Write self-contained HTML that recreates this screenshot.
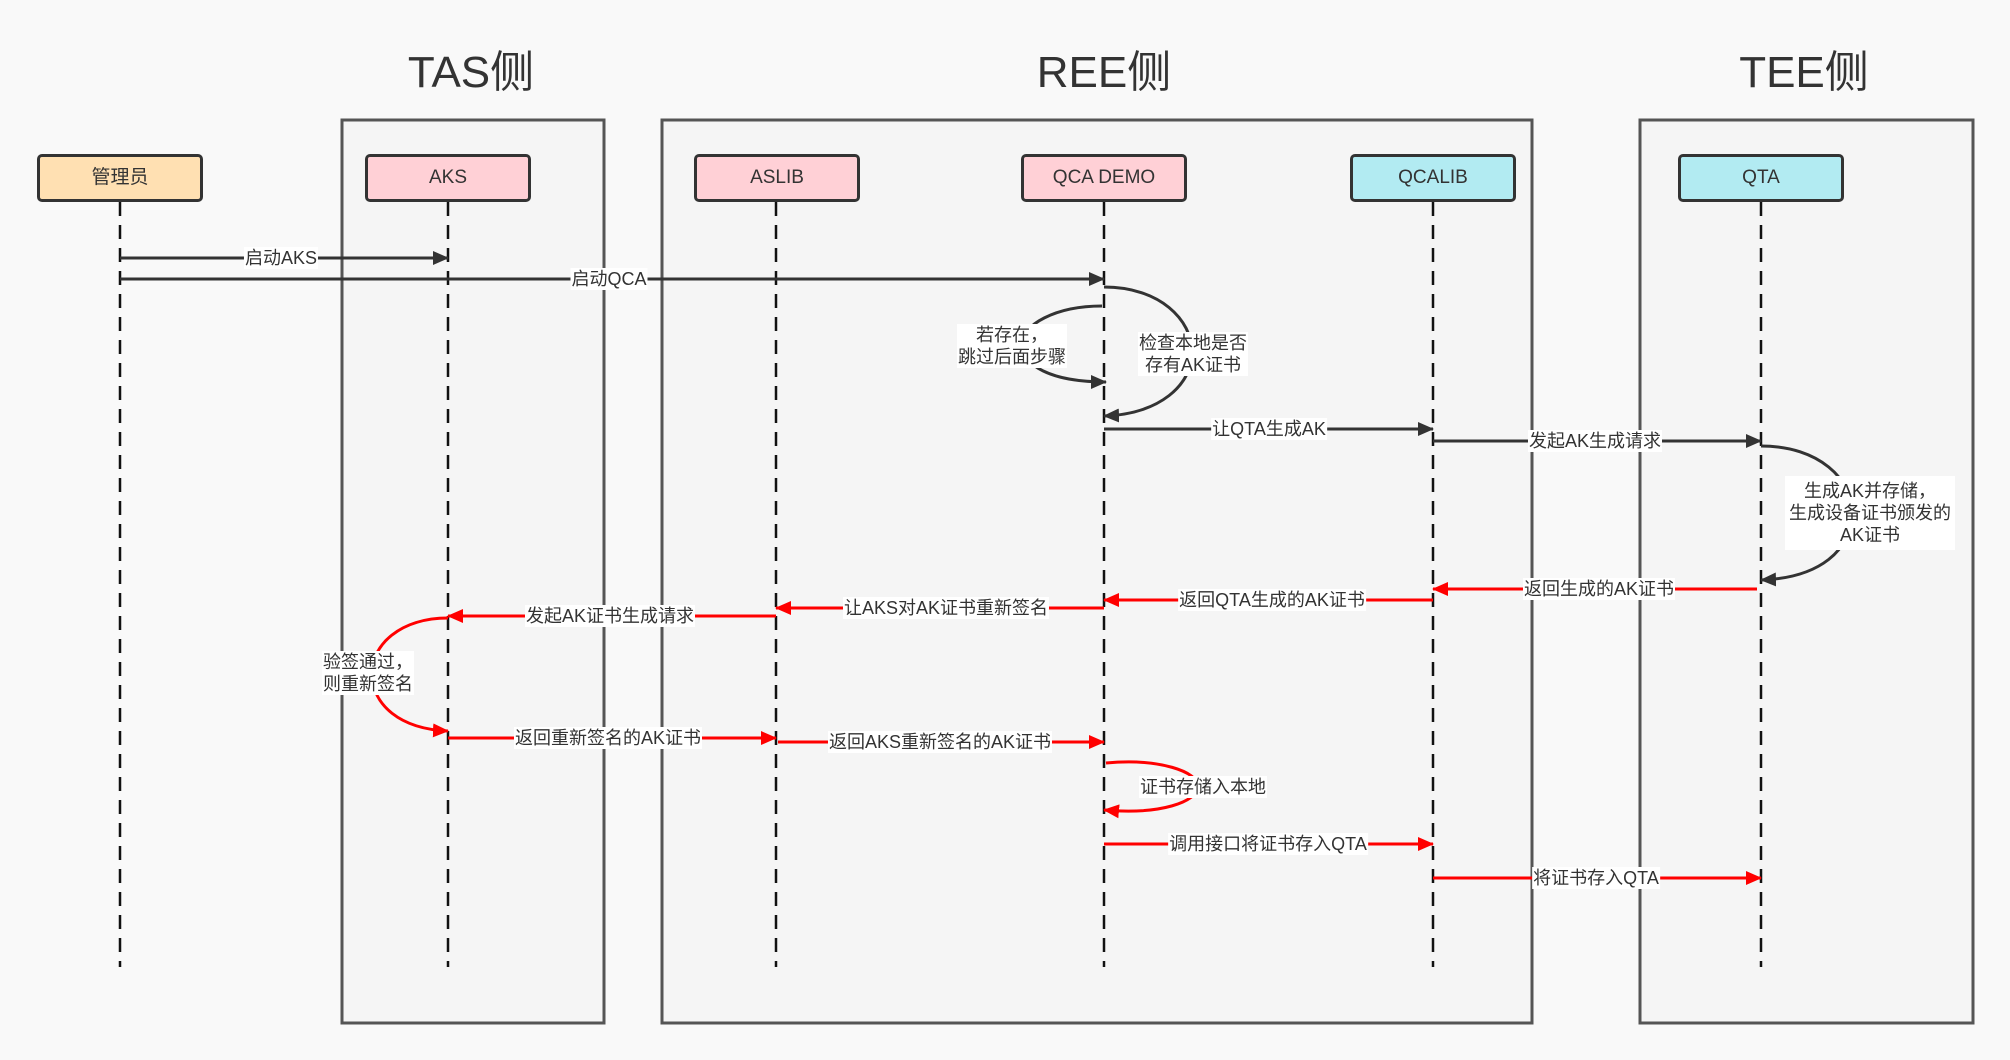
<!DOCTYPE html>
<html><head><meta charset="utf-8"><style>
html,body{margin:0;padding:0;background:#f9f9f9;}
#c{position:relative;width:2010px;height:1060px;overflow:hidden;font-family:"Liberation Sans","Noto Sans CJK SC",sans-serif;color:#333;}
.l{position:absolute;background:#fff;font-size:18px;line-height:22px;white-space:nowrap;transform:translate(-50%,-50%);text-align:center;padding:0 1px;}
.t{position:absolute;font-size:44px;transform:translate(-50%,-50%);color:#333;white-space:nowrap;}
.b{position:absolute;width:160px;height:42px;border:3px solid #333;border-radius:5px;font-size:19px;line-height:42px;text-align:center;}
</style></head><body><div id="c">
<svg width="2010" height="1060" style="position:absolute;left:0;top:0">
<defs>
<marker id="ak" markerWidth="16" markerHeight="14" refX="15" refY="7" orient="auto" markerUnits="userSpaceOnUse" viewBox="0 0 16 14"><path d="M0,0L16,7L0,14Z" fill="#333"/></marker>
<marker id="ar" markerWidth="16" markerHeight="14" refX="15" refY="7" orient="auto" markerUnits="userSpaceOnUse" viewBox="0 0 16 14"><path d="M0,0L16,7L0,14Z" fill="#f00"/></marker>
</defs>
<g fill="#f5f5f5" stroke="#555" stroke-width="3">
<rect x="342" y="120" width="262" height="903"/>
<rect x="662" y="120" width="870" height="903"/>
<rect x="1640" y="120" width="333" height="903"/>
</g>
<g stroke="#111" stroke-width="2.5" stroke-dasharray="14 9">
<line x1="120" y1="202" x2="120" y2="967"/>
<line x1="448" y1="202" x2="448" y2="967"/>
<line x1="776" y1="202" x2="776" y2="967"/>
<line x1="1104" y1="202" x2="1104" y2="967"/>
<line x1="1433" y1="202" x2="1433" y2="967"/>
<line x1="1761" y1="202" x2="1761" y2="967"/>
</g>
<g fill="none" stroke="#333" stroke-width="3">
<line x1="120" y1="258" x2="448" y2="258" marker-end="url(#ak)"/>
<line x1="120" y1="279" x2="1104" y2="279" marker-end="url(#ak)"/>
<path d="M1104,287 C1160,287 1192,320 1192,352 C1192,385 1160,414 1104,416" marker-end="url(#ak)"/>
<path d="M1102,306 C1055,306 1022,325 1022,344 C1022,365 1050,382 1106,382" marker-end="url(#ak)"/>
<line x1="1104" y1="429" x2="1433" y2="429" marker-end="url(#ak)"/>
<line x1="1433" y1="441" x2="1761" y2="441" marker-end="url(#ak)"/>
<path d="M1761,446 C1820,446 1852,480 1852,512 C1852,550 1820,578 1761,580" marker-end="url(#ak)"/>
</g>
<g fill="none" stroke="#f00" stroke-width="3">
<line x1="1757" y1="589" x2="1433" y2="589" marker-end="url(#ar)"/>
<line x1="1433" y1="600" x2="1104" y2="600" marker-end="url(#ar)"/>
<line x1="1104" y1="608" x2="776" y2="608" marker-end="url(#ar)"/>
<line x1="776" y1="616" x2="448" y2="616" marker-end="url(#ar)"/>
<path d="M448,618 C400,618 372,645 372,673 C372,705 400,729 448,731" marker-end="url(#ar)"/>
<line x1="448" y1="738" x2="776" y2="738" marker-end="url(#ar)"/>
<line x1="778" y1="742" x2="1104" y2="742" marker-end="url(#ar)"/>
<path d="M1106,763 C1160,758 1198,772 1198,786 C1198,802 1160,815 1104,810" marker-end="url(#ar)"/>
<line x1="1104" y1="844" x2="1433" y2="844" marker-end="url(#ar)"/>
<line x1="1433" y1="878" x2="1761" y2="878" marker-end="url(#ar)"/>
</g>
</svg>
<div class="t" style="left:471px;top:68px">TAS侧</div>
<div class="t" style="left:1104px;top:68px">REE侧</div>
<div class="t" style="left:1804px;top:68px">TEE侧</div>
<div class="b" style="left:37px;top:154px;background:#ffe0b2">管理员</div>
<div class="b" style="left:365px;top:154px;background:#ffd0d6">AKS</div>
<div class="b" style="left:694px;top:154px;background:#ffd0d6">ASLIB</div>
<div class="b" style="left:1021px;top:154px;background:#ffd0d6">QCA DEMO</div>
<div class="b" style="left:1350px;top:154px;background:#b2ebf2">QCALIB</div>
<div class="b" style="left:1678px;top:154px;background:#b2ebf2">QTA</div>
<div class="l" style="left:281px;top:258px">启动AKS</div>
<div class="l" style="left:609px;top:279px">启动QCA</div>
<div class="l" style="left:1012px;top:346px">若存在，<br>跳过后面步骤</div>
<div class="l" style="left:1193px;top:354px">检查本地是否<br>存有AK证书</div>
<div class="l" style="left:1269px;top:429px">让QTA生成AK</div>
<div class="l" style="left:1595px;top:441px">发起AK生成请求</div>
<div class="l" style="left:1870px;top:513px;padding:4px 4px">生成AK并存储，<br>生成设备证书颁发的<br>AK证书</div>
<div class="l" style="left:1599px;top:589px">返回生成的AK证书</div>
<div class="l" style="left:1272px;top:600px">返回QTA生成的AK证书</div>
<div class="l" style="left:946px;top:608px">让AKS对AK证书重新签名</div>
<div class="l" style="left:610px;top:616px">发起AK证书生成请求</div>
<div class="l" style="left:368px;top:673px">验签通过，<br>则重新签名</div>
<div class="l" style="left:608px;top:738px">返回重新签名的AK证书</div>
<div class="l" style="left:940px;top:742px">返回AKS重新签名的AK证书</div>
<div class="l" style="left:1203px;top:787px">证书存储入本地</div>
<div class="l" style="left:1268px;top:844px">调用接口将证书存入QTA</div>
<div class="l" style="left:1596px;top:878px">将证书存入QTA</div>
</div></body></html>
